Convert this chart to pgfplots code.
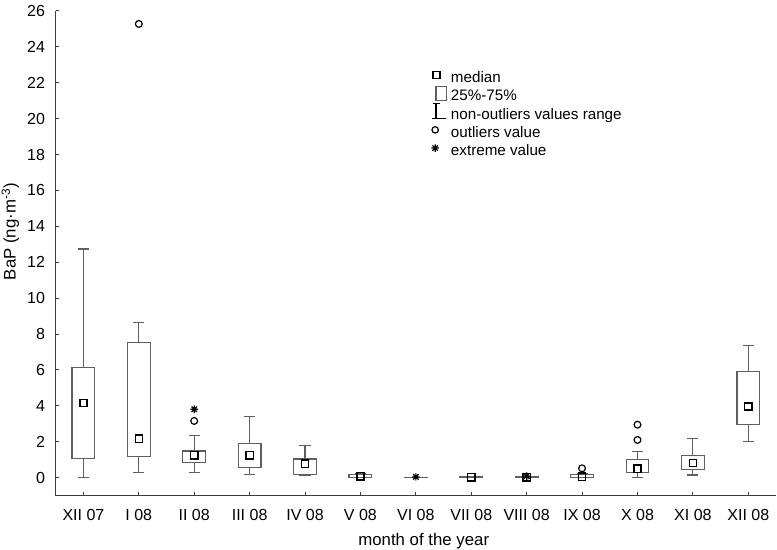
\documentclass[border=0pt]{standalone}
\usepackage{fontspec}
\setmainfont{Liberation Sans}
\usepackage{pgfplots}
\pgfplotsset{compat=1.18}
\usepgfplotslibrary{statistics}

\definecolor{boxgray}{RGB}{95,95,95}
\definecolor{axisgray}{RGB}{60,60,60}

% eight-spoke star for the extreme values
\pgfdeclareplotmark{ast8}{%
  \pgfpathmoveto{\pgfqpoint{0pt}{\pgfplotmarksize}}\pgfpathlineto{\pgfqpoint{0pt}{-\pgfplotmarksize}}%
  \pgfpathmoveto{\pgfqpoint{\pgfplotmarksize}{0pt}}\pgfpathlineto{\pgfqpoint{-\pgfplotmarksize}{0pt}}%
  \pgfpathmoveto{\pgfqpoint{0.707\pgfplotmarksize}{0.707\pgfplotmarksize}}\pgfpathlineto{\pgfqpoint{-0.707\pgfplotmarksize}{-0.707\pgfplotmarksize}}%
  \pgfpathmoveto{\pgfqpoint{-0.707\pgfplotmarksize}{0.707\pgfplotmarksize}}\pgfpathlineto{\pgfqpoint{0.707\pgfplotmarksize}{-0.707\pgfplotmarksize}}%
  \pgfusepathqstroke}

\begin{document}
\begin{tikzpicture}
\begin{axis}[
  at={(27.85pt,27.2pt)}, anchor=south west,
  scale only axis, width=360.15pt, height=242.3pt,
  xmin=-0.5, xmax=12.5, ymin=-1, ymax=26,
  axis x line*=bottom, axis y line*=left,
  axis line style={draw=axisgray, line width=0.5pt},
  tick style={draw=axisgray, line width=0.5pt},
  tick align=inside, major tick length=1.8pt,
  xtick={0,...,12},
  xticklabels={XII 07, I 08, II 08, III 08, IV 08, V 08, VI 08, VII 08, VIII 08, IX 08, X 08, XI 08, XII 08},
  ytick={0,2,...,26},
  /pgf/number format/assume math mode=true,
  tick label style={font=\fontsize{8}{9.6}\selectfont},
  xticklabel style={yshift=-3.2pt},
  yticklabel style={xshift=-1.8pt},
  xlabel={month of the year},
  ylabel={BaP (ng·m\textsuperscript{-3})},
  label style={font=\fontsize{8.4}{10}\selectfont},
  xlabel style={at={(axis description cs:0.511,-0.093)}, anchor=center},
  ylabel style={at={(axis description cs:-0.063,0.545)}, anchor=center},
  boxplot/draw direction=y,
  boxplot={box extend=0.41, whisker extend=0.2},
  boxplot/draw/median/.code={},
  legend style={draw=none, fill=none, at={(axis description cs:0.5224,0.8748)}, anchor=north west,
    font=\fontsize{7.6}{9}\selectfont, inner sep=0pt, outer sep=0pt, row sep=0pt,
    column sep=2pt,
    nodes={inner sep=0pt, text height=5.5pt, text depth=3.6pt}},
  legend cell align=left,
]
% ---- boxes (lower whisker, q1, median, q3, upper whisker) ----
\addplot[forget plot, draw=boxgray, line width=0.6pt, boxplot prepared={draw position=0, lower whisker=0, lower quartile=1.08, median=4.16, upper quartile=6.13, upper whisker=12.74}] coordinates {};
\addplot[forget plot, draw=boxgray, line width=0.6pt, boxplot prepared={draw position=1, lower whisker=0.30, lower quartile=1.17, median=2.17, upper quartile=7.52, upper whisker=8.64}] coordinates {};
\addplot[forget plot, draw=boxgray, line width=0.6pt, boxplot prepared={draw position=2, lower whisker=0.30, lower quartile=0.86, median=1.25, upper quartile=1.49, upper whisker=2.36}] coordinates {};
\addplot[forget plot, draw=boxgray, line width=0.6pt, boxplot prepared={draw position=3, lower whisker=0.19, lower quartile=0.56, median=1.25, upper quartile=1.92, upper whisker=3.40}] coordinates {};
\addplot[forget plot, draw=boxgray, line width=0.6pt, boxplot prepared={draw position=4, lower whisker=0.11, lower quartile=0.19, median=0.78, upper quartile=1.04, upper whisker=1.77}] coordinates {};
\addplot[forget plot, draw=boxgray, line width=0.6pt, boxplot prepared={draw position=5, lower whisker=0.0, lower quartile=0.01, median=0.07, upper quartile=0.17, upper whisker=0.20}] coordinates {};
\addplot[forget plot, draw=boxgray, line width=0.6pt, boxplot prepared={draw position=6, lower whisker=0.0, lower quartile=0.0, median=0.01, upper quartile=0.02, upper whisker=0.03}] coordinates {};
\addplot[forget plot, draw=boxgray, line width=0.6pt, boxplot prepared={draw position=7, lower whisker=0.0, lower quartile=0.01, median=0.02, upper quartile=0.05, upper whisker=0.07}] coordinates {};
\addplot[forget plot, draw=boxgray, line width=0.6pt, boxplot prepared={draw position=8, lower whisker=0.0, lower quartile=0.0, median=0.02, upper quartile=0.04, upper whisker=0.06}] coordinates {};
\addplot[forget plot, draw=boxgray, line width=0.6pt, boxplot prepared={draw position=9, lower whisker=0.0, lower quartile=0.02, median=0.05, upper quartile=0.18, upper whisker=0.22}] coordinates {};
\addplot[forget plot, draw=boxgray, line width=0.6pt, boxplot prepared={draw position=10, lower whisker=0.02, lower quartile=0.28, median=0.50, upper quartile=0.99, upper whisker=1.45}] coordinates {};
\addplot[forget plot, draw=boxgray, line width=0.6pt, boxplot prepared={draw position=11, lower whisker=0.15, lower quartile=0.47, median=0.82, upper quartile=1.23, upper whisker=2.19}] coordinates {};
\addplot[forget plot, draw=boxgray, line width=0.6pt, boxplot prepared={draw position=12, lower whisker=2.01, lower quartile=2.94, median=3.96, upper quartile=5.93, upper whisker=7.38}] coordinates {};
% ---- medians ----
\addplot[forget plot, only marks, mark=square, mark size=1.8pt, mark options={draw=black, line width=0.7pt}]
  coordinates {(0,4.16) (1,2.17) (2,1.25) (3,1.25) (4,0.78) (5,0.07) (7,0.02) (8,0.02) (9,0.05) (10,0.50) (11,0.82) (12,3.96)};
% ---- outliers ----
\addplot[forget plot, only marks, mark=o, mark size=1.7pt, mark options={draw=black, line width=0.6pt}]
  coordinates {(1,25.28) (2,3.16) (9,0.52) (10,2.10) (10,2.95)};
% ---- extremes ----
\addplot[forget plot, only marks, mark=ast8, mark size=1.9pt, mark options={draw=black, line width=0.6pt}]
  coordinates {(2,3.81) (6,0.04) (8,0.08)};
% ---- legend ----
\addlegendimage{legend image code/.code={\draw[overlay, black, line width=0.7pt] (0.6pt,1.0pt) rectangle (4.1pt,4.5pt); \path[draw=none, fill=none] (0pt,2pt) rectangle (7.5pt,3pt);}}
\addlegendentry{median}
\addlegendimage{legend image code/.code={\draw[overlay, boxgray, line width=0.6pt] (2pt,-0.6pt) rectangle (7.35pt,6.1pt); \path[draw=none, fill=none] (0pt,2pt) rectangle (7.5pt,3pt);}}
\addlegendentry{25\%-75\%}
\addlegendimage{legend image code/.code={\draw[overlay, black, line width=0.6pt] (2pt,-0.6pt) -- (2pt,6.9pt) (0.35pt,6.9pt) -- (4pt,6.9pt) (0pt,-0.6pt) -- (7pt,-0.6pt); \path[draw=none, fill=none] (0pt,2pt) rectangle (7.5pt,3pt);}}
\addlegendentry{non-outliers values range}
\addlegendimage{legend image code/.code={\draw[overlay, black, line width=0.6pt] (1.6pt,2.75pt) circle (1.6pt); \path[draw=none, fill=none] (0pt,2pt) rectangle (7.5pt,3pt);}}
\addlegendentry{outliers value}
\addlegendimage{legend image code/.code={\draw[overlay, black, line width=0.6pt, mark size=1.9pt] plot[mark=ast8] coordinates {(1.6pt,2.75pt)}; \path[draw=none, fill=none] (0pt,2pt) rectangle (7.5pt,3pt);}}
\addlegendentry{extreme value}
\end{axis}
\pgfresetboundingbox
\path[use as bounding box] (0,0) rectangle (388.5pt,275pt);
\end{tikzpicture}
\end{document}
